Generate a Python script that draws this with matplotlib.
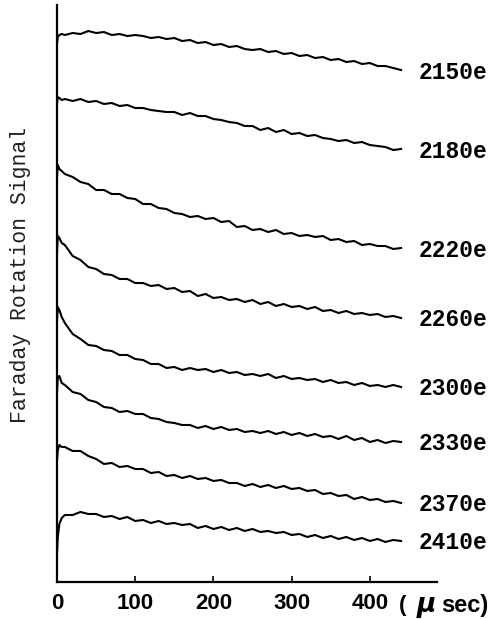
import matplotlib
matplotlib.use("Agg")
import matplotlib.pyplot as plt

# time axis (micro seconds), shared by all traces
t_us = [0, 1, 3, 6, 10, 20, 30, 40, 50, 60, 70, 80, 90, 100, 110, 120, 130,
        140, 150, 160, 170, 180, 190, 200, 210, 220, 230, 240, 250, 260, 270,
        280, 290, 300, 310, 320, 330, 340, 350, 360, 370, 380, 390, 400, 410,
        420, 430, 440]

# Faraday rotation signal (arb. units, traces already offset for display)
sig_2150 = [539, 545, 547, 548, 547, 549, 548, 551, 549, 550, 547, 548, 546,
            547, 546, 544, 545, 543, 544, 541, 542, 539, 540, 537, 538, 535,
            536, 533, 532, 533, 530, 531, 528, 529, 526, 527, 524, 525, 522,
            523, 520, 521, 518, 519, 516, 516, 514, 512]
sig_2180 = [478, 485, 484, 482, 483, 481, 483, 480, 481, 478, 479, 476, 477,
            474, 474, 472, 471, 470, 470, 467, 469, 466, 466, 463, 462, 460,
            459, 456, 456, 452, 454, 450, 452, 448, 449, 446, 447, 444, 443,
            441, 442, 439, 440, 437, 436, 435, 432, 433]
sig_2220 = [405, 417, 413, 411, 408, 405, 400, 398, 392, 392, 388, 388, 384,
            383, 378, 378, 374, 373, 369, 368, 365, 366, 363, 364, 360, 361,
            355, 356, 352, 353, 350, 352, 348, 349, 346, 347, 345, 346, 342,
            343, 340, 341, 337, 338, 336, 336, 333, 334]
sig_2260 = [330, 346, 344, 339, 337, 326, 322, 315, 313, 308, 307, 303, 303,
            299, 299, 296, 297, 293, 294, 290, 291, 286, 288, 284, 285, 282,
            283, 280, 282, 278, 280, 276, 278, 275, 276, 273, 275, 271, 272,
            269, 271, 268, 269, 267, 268, 265, 266, 264]
sig_2300 = [262, 275, 272, 265, 259, 248, 243, 237, 236, 232, 231, 227, 227,
            223, 222, 218, 218, 214, 215, 212, 214, 212, 213, 210, 212, 209,
            210, 207, 208, 206, 208, 204, 206, 203, 204, 202, 203, 200, 202,
            199, 200, 197, 199, 196, 197, 195, 197, 195]
sig_2330 = [190, 205, 206, 199, 197, 190, 188, 182, 180, 175, 174, 170, 171,
            168, 168, 164, 163, 160, 159, 157, 157, 154, 156, 153, 155, 152,
            153, 150, 151, 149, 151, 148, 150, 147, 149, 146, 148, 145, 146,
            143, 146, 142, 144, 140, 142, 139, 141, 140]
sig_2370 = [122, 132, 137, 135, 135, 131, 131, 126, 123, 118, 119, 115, 116,
            113, 113, 109, 110, 106, 107, 104, 106, 103, 104, 101, 102, 99,
            99, 96, 98, 95, 97, 94, 96, 93, 94, 91, 92, 88, 89, 86, 87, 83,
            85, 82, 83, 80, 81, 79]
sig_2410 = [29, 45, 58, 64, 67, 67, 70, 68, 68, 65, 66, 63, 65, 61, 62, 59,
            61, 58, 59, 57, 58, 54, 56, 53, 55, 52, 54, 51, 53, 50, 51, 49,
            50, 47, 48, 45, 47, 44, 46, 43, 45, 42, 44, 41, 43, 40, 42, 41]

field_labels = ["2150e", "2180e", "2220e", "2260e",
                "2300e", "2330e", "2370e", "2410e"]
traces = [sig_2150, sig_2180, sig_2220, sig_2260,
          sig_2300, sig_2330, sig_2370, sig_2410]
x_ticks = [0, 100, 200, 300, 400]

fig = plt.figure(figsize=(4.95, 6.19), dpi=100)
ax = fig.add_axes([0.1152, 0.0598, 0.7677, 0.9321])

for sig, lab in zip(traces, field_labels):
    ax.plot(t_us, sig, color="black", lw=1.5, solid_joinstyle="round")
    ax.text(t_us[-1] + 22, sig[-1] - 2, lab, ha="left", va="center",
            fontsize=16.5, family="Liberation Mono", fontweight="bold",
            color="black", clip_on=False)

ax.set_xlim(0, 486)
ax.set_ylim(0, 577)

for side in ["top", "right"]:
    ax.spines[side].set_visible(False)
ax.spines["left"].set_linewidth(1.6)
ax.spines["bottom"].set_linewidth(1.6)

ax.set_yticks([])
ax.set_xticks(x_ticks)
ax.set_xticklabels([str(v) for v in x_ticks], fontsize=16,
                   family="Liberation Sans", fontweight="bold")
ax.tick_params(axis="x", direction="in", length=4, width=1.2, pad=8)

# unit label sits to the right of the last tick label
ax.text(0.900, -0.040, "(", transform=ax.transAxes, ha="left", va="center",
        fontsize=16, family="Liberation Sans", fontweight="bold")
ax.text(0.946, -0.040, "\u03bc", transform=ax.transAxes, ha="left",
        va="center", fontsize=19, family="DejaVu Sans", style="italic",
        fontweight="bold")
ax.text(1.010, -0.040, "sec)", transform=ax.transAxes, ha="left",
        va="center", fontsize=17, family="Liberation Sans", fontweight="bold")

ax.set_ylabel("Faraday Rotation Signal", fontsize=15.5,
              family="Liberation Mono", color="#222222")
ax.yaxis.set_label_coords(-0.068, 0.532)

fig.savefig("out.png", dpi=100)
